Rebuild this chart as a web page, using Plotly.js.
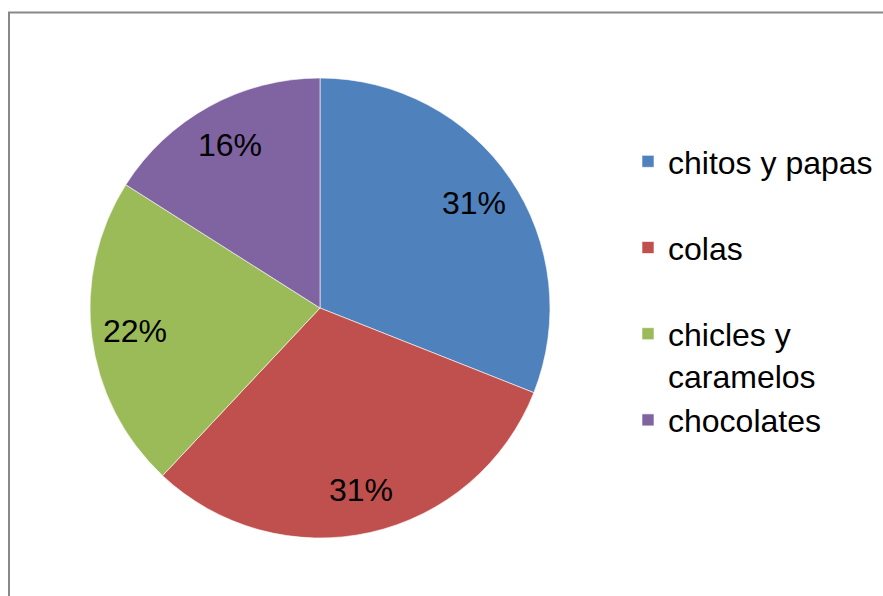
<!DOCTYPE html>
<html><head><meta charset="utf-8">
<script src="https://cdn.plot.ly/plotly-3.0.1.min.js"></script>
<style>html,body{margin:0;padding:0;background:#fff}#chart{width:883px;height:596px}</style>
</head><body><div id="chart"></div>
<script>
const categories = ["chitos y papas", "colas", "chicles y<br>caramelos", "chocolates"];
const values = [31, 31, 22, 16];
const colors = ["#4F81BD", "#C0504D", "#9BBB59", "#8064A2"];

const W = 883, H = 596;
const cxPx = 320, cyPx = 308, R = 230;

// legend labels: pad single-line items so spacing matches the original
const legendLabels = categories.map(c => c.indexOf('<br>') >= 0 ? c : c + '<br>&nbsp;');
legendLabels[legendLabels.length - 1] = categories[categories.length - 1];

const trace = {
  type: 'pie',
  labels: legendLabels,
  values: values,
  sort: false,
  direction: 'clockwise',
  rotation: 0,
  marker: {colors: colors, line: {color: '#ffffff', width: 0.6}},
  textinfo: 'none',
  domain: {x: [(cxPx - R)/W, (cxPx + R)/W], y: [1-(cyPx + R)/H, 1-(cyPx - R)/H]},
  hoverinfo: 'none'
};

// percentage labels placed along each slice bisector
const total = values.reduce((a, b) => a + b, 0);
let cum = 0;
const annotations = values.map(v => {
  const mid = (cum + v/2) / total * 2 * Math.PI;
  cum += v;
  return {
    xref: 'paper', yref: 'paper',
    x: (cxPx + 0.81*R*Math.sin(mid))/W,
    y: 1 - (cyPx - 0.81*R*Math.cos(mid))/H,
    text: Math.round(v/total*100) + '%',
    showarrow: false, xanchor: 'center', yanchor: 'middle',
    font: {size: 32, color: '#000'}
  };
});

const layout = {
  width: W, height: H,
  margin: {l: 0, r: 0, t: 0, b: 0},
  paper_bgcolor: '#fff',
  font: {family: 'Liberation Sans, Arial, sans-serif', color: '#000'},
  showlegend: true,
  legend: {
    x: 628/W, y: 1-134/H, xanchor: 'left', yanchor: 'top',
    font: {size: 32, color: '#000'}, valign: 'top',
    itemwidth: 30, traceorder: 'normal', bgcolor: 'rgba(0,0,0,0)'
  },
  annotations: annotations,
  shapes: [{type: 'rect', xref: 'paper', yref: 'paper',
    x0: 9/W, x1: 1.01, y0: -0.02, y1: 1-12.5/H,
    line: {color: '#888888', width: 2}}]
};

Plotly.newPlot('chart', [trace], layout, {staticPlot: true});
</script></body></html>
